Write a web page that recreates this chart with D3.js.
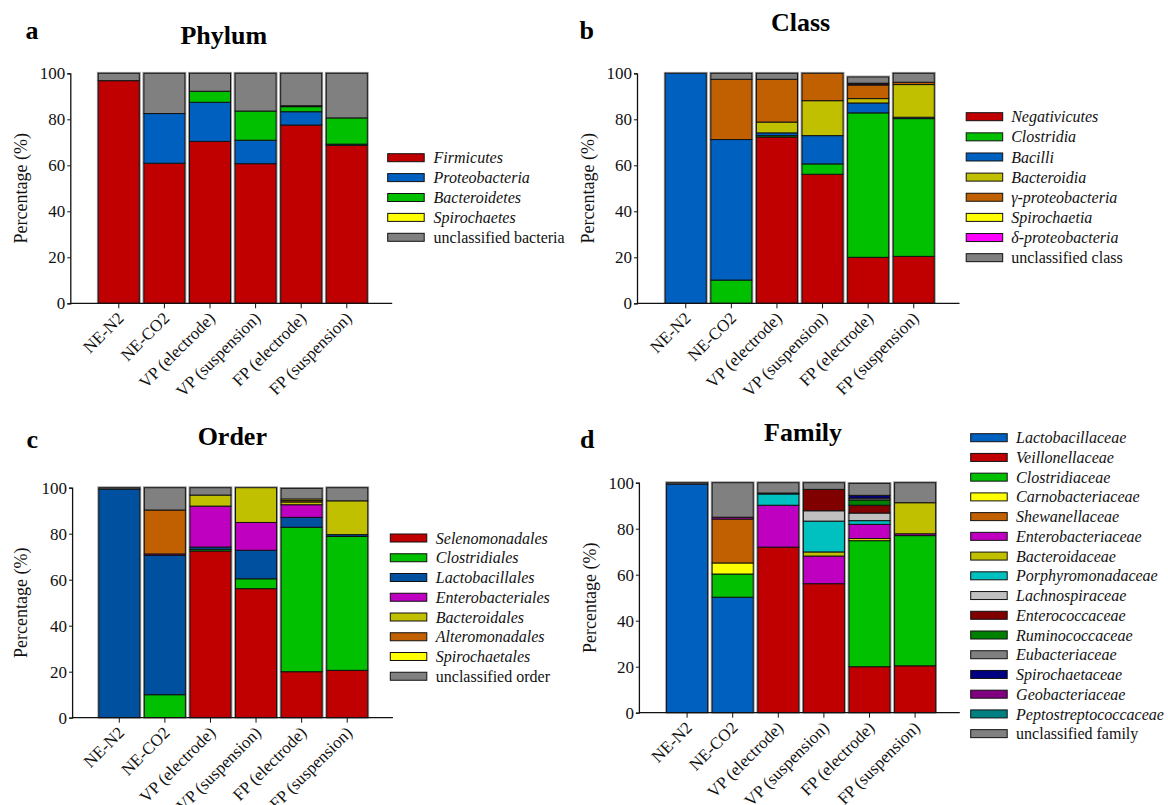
<!DOCTYPE html>
<html><head><meta charset="utf-8">
<script src="https://cdn.jsdelivr.net/npm/d3@7"></script>
<style>body{margin:0;background:#fff}svg text{font-family:"Liberation Serif","Times New Roman",serif}</style>
</head><body>
<svg id="c" width="1168" height="805" font-family="Liberation Serif, Times New Roman, serif"></svg>
<script>
const categories = ["NE-N2","NE-CO2","VP (electrode)","VP (suspension)","FP (electrode)","FP (suspension)"];
const yTicks = [0,20,40,60,80,100];

const phylumTaxa = ["Firmicutes","Proteobacteria","Bacteroidetes","Spirochaetes","unclassified bacteria"];
const phylumColors = ["#c00000","#0060c0","#00c000","#ffff00","#808080"];
const phylumValues = [
  [96.8, 60.9, 70.4, 60.7, 77.5, 68.7],
  [0, 21.6, 17.0, 10.2, 5.8, 0.5],
  [0, 0, 4.8, 12.7, 2.2, 11.4],
  [0, 0, 0, 0, 0.4, 0],
  [3.2, 17.5, 7.8, 16.4, 14.1, 19.4]
];

const classTaxa = ["Negativicutes","Clostridia","Bacilli","Bacteroidia","γ-proteobacteria","Spirochaetia","δ-proteobacteria","unclassified class"];
const classColors = ["#c00000","#00c000","#0060c0","#c0c000","#c06000","#ffff00","#ff00ff","#808080"];
const classValues = [
  [0, 0, 72.3, 56.1, 20.0, 20.4],
  [0, 10.1, 0.6, 4.5, 62.8, 59.9],
  [100, 61.1, 1.2, 12.3, 4.3, 0.6],
  [0, 0, 4.7, 15.2, 1.9, 14.2],
  [0, 26.2, 18.6, 11.9, 5.9, 1.0],
  [0, 0, 0, 0, 0.4, 0],
  [0, 0, 0, 0, 0.4, 0],
  [0, 2.6, 2.6, 0, 2.7, 3.9]
];

const orderTaxa = ["Selenomonadales","Clostridiales","Lactobacillales","Enterobacteriales","Bacteroidales","Alteromonadales","Spirochaetales","unclassified order"];
const orderColors = ["#c00000","#00c000","#0050a0","#c000c0","#c0c000","#c06000","#ffff00","#808080"];
const orderValues = [
  [0, 0, 72.5, 56.1, 20.0, 20.6],
  [0, 10.0, 0.7, 4.3, 62.8, 58.2],
  [99.4, 60.6, 1.0, 12.4, 4.3, 0.8],
  [0, 0.6, 17.8, 12.1, 5.5, 0],
  [0, 0, 4.8, 15.1, 1.2, 14.7],
  [0, 19.1, 0, 0, 0.6, 0],
  [0, 0, 0, 0, 0.7, 0],
  [0.6, 9.7, 3.2, 0, 4.6, 5.7]
];

const familyTaxa = ["Lactobacillaceae","Veillonellaceae","Clostridiaceae","Carnobacteriaceae","Shewanellaceae","Enterobacteriaceae","Bacteroidaceae","Porphyromonadaceae","Lachnospiraceae","Enterococcaceae","Ruminococcaceae","Eubacteriaceae","Spirochaetaceae","Geobacteriaceae","Peptostreptococcaceae","unclassified family"];
const familyColors = ["#0060c0","#c00000","#00c000","#ffff00","#c06000","#c000c0","#c0c000","#00c0c0","#c0c0c0","#800000","#008000","#808080","#000080","#800080","#008080","#808080"];
const familyValues = [
  [99.4, 50.2, 0, 0, 0, 0],
  [0, 0, 72.0, 56.1, 20.0, 20.4],
  [0, 10.1, 0, 0, 54.8, 56.6],
  [0, 4.8, 0, 0, 0.9, 0],
  [0, 19.1, 0, 0, 0, 0],
  [0, 0.8, 18.2, 12.0, 6.2, 0.8],
  [0, 0, 0, 1.8, 0, 13.5],
  [0, 0, 4.9, 13.4, 1.6, 0],
  [0, 0, 0, 4.5, 3.3, 0],
  [0, 0, 0.4, 9.3, 3.4, 0],
  [0, 0, 0, 0, 2.3, 0],
  [0, 0, 0, 0, 0.8, 0],
  [0, 0, 0, 0, 1.2, 0],
  [0, 0, 0, 0, 0, 0],
  [0, 0, 0, 0, 0, 0],
  [0.6, 15.0, 4.5, 2.9, 5.2, 8.7]
];

const panels = [
  {letter:"a", title:"Phylum", taxa:phylumTaxa, colors:phylumColors, values:phylumValues,
   axisX:70.3, y0:303.3, y100:73.3, xEnd:392.2, r0:96.0, r1:369.6,
   titleX:223.8, titleY:44, letterX:25.5, letterY:39.3, ylabX:20.3,
   legX:387.7, legTextX:433.6, legY:157.7, legStep:19.9},
  {letter:"b", title:"Class", taxa:classTaxa, colors:classColors, values:classValues,
   axisX:637, y0:303.3, y100:73.3, xEnd:959.5, r0:662.95, r1:936.55,
   titleX:800.5, titleY:31, letterX:579.5, letterY:39.3, ylabX:587.5,
   legX:966.2, legTextX:1011.2, legY:116.7, legStep:20.14},
  {letter:"c", title:"Order", taxa:orderTaxa, colors:orderColors, values:orderValues,
   axisX:72.1, y0:717.7, y100:487.7, xEnd:392.9, r0:96.5, r1:370.0,
   titleX:232.3, titleY:445, letterX:26.5, letterY:448.3, ylabX:20.5,
   legX:390.3, legTextX:435.8, legY:538, legStep:19.75},
  {letter:"d", title:"Family", taxa:familyTaxa, colors:familyColors, values:familyValues,
   axisX:638.9, y0:712.7, y100:482.7, xEnd:959.8, r0:664.3, r1:937.9,
   titleX:803.1, titleY:440.7, letterX:580, letterY:447.7, ylabX:589.4,
   legX:970.7, legTextX:1016.1, legY:437.7, legStep:19.73}
];

const FONT = '"Liberation Serif","Times New Roman",serif';
const svg = d3.select("#c");

panels.forEach(p => {
  const g = svg.append("g");
  const x = d3.scaleBand().domain(categories).range([p.r0, p.r1]).paddingInner(0.1).paddingOuter(0.05);
  const y = d3.scaleLinear().domain([0,100]).range([p.y0, p.y100]);

  const rows = categories.map((c, ci) => {
    const o = {cat:c};
    p.taxa.forEach((t, ti) => o[t] = p.values[ti][ci]);
    return o;
  });
  const stack = d3.stack().keys(p.taxa)(rows);

  // outer gray halo of each bar
  const totals = categories.map((c, ci) => ({cat:c, total:d3.sum(p.values, r => r[ci])}));
  g.selectAll(null).data(totals).enter().append("rect")
    .attr("x", d => x(d.cat) - 0.8).attr("width", x.bandwidth() + 1.6)
    .attr("y", d => y(d.total) - 0.8).attr("height", d => y(0) - y(d.total) + 0.8)
    .attr("fill", "none").attr("stroke", "#999").attr("stroke-width", 1.2);

  stack.forEach((layer, li) => {
    g.selectAll(null).data(layer.filter(d => d[1]-d[0] > 0)).enter().append("rect")
      .attr("x", d => x(d.data.cat))
      .attr("width", x.bandwidth())
      .attr("y", d => y(d[1]))
      .attr("height", d => y(d[0]) - y(d[1]))
      .attr("fill", p.colors[li])
      .attr("stroke", "#111")
      .attr("stroke-width", 1);
  });

  // y axis
  const ya = d3.axisLeft(y).tickValues(yTicks).tickSize(3).tickPadding(2);
  const yg = g.append("g").attr("transform", `translate(${p.axisX},0)`).call(ya);
  yg.attr("font-family", null);
  yg.select(".domain").attr("stroke", "#111").attr("stroke-width", 1.3);
  yg.selectAll(".tick line").attr("stroke", "#111");
  yg.selectAll("text").attr("font-size", 17).attr("fill", "#111").style("font-family", FONT);

  // x axis
  const xa = d3.axisBottom(x).tickSize(5).tickSizeOuter(0);
  const xg = g.append("g").attr("transform", `translate(0,${p.y0})`).call(xa);
  xg.attr("font-family", null);
  xg.select(".domain").remove();
  g.append("line").attr("x1", p.axisX).attr("x2", p.xEnd).attr("y1", p.y0).attr("y2", p.y0)
    .attr("stroke", "#111").attr("stroke-width", 1.3);
  xg.selectAll(".tick line").attr("stroke", "#111");
  xg.selectAll("text").attr("font-size", 17).attr("fill", "#111").style("font-family", FONT)
    .attr("text-anchor", "end")
    .attr("y", 0).attr("dy", 0)
    .attr("transform", "translate(6,16) rotate(-45)");

  // y label
  g.append("text").attr("transform", `translate(${p.ylabX},${(p.y0+p.y100)/2}) rotate(-90)`)
    .attr("text-anchor", "middle").attr("dy", "0.35em").attr("font-size", 18).attr("fill", "#111")
    .style("font-family", FONT).text("Percentage (%)");

  // title + letter
  g.append("text").attr("x", p.titleX).attr("y", p.titleY).attr("text-anchor", "middle")
    .attr("font-size", 26).attr("font-weight", "bold").attr("fill", "#000").style("font-family", FONT).text(p.title);
  g.append("text").attr("x", p.letterX).attr("y", p.letterY)
    .attr("font-size", 26).attr("font-weight", "bold").attr("fill", "#000").style("font-family", FONT).text(p.letter);

  // legend
  p.taxa.forEach((t, i) => {
    const cy = p.legY + i * p.legStep;
    g.append("rect").attr("x", p.legX).attr("y", cy - 4).attr("width", 36.5).attr("height", 8)
      .attr("fill", p.colors[i]).attr("stroke", "#111").attr("stroke-width", 1);
    const italic = !t.startsWith("unclassified");
    g.append("text").attr("x", p.legTextX).attr("y", cy).attr("dy", "0.35em")
      .attr("font-size", 16).attr("fill", "#111").style("font-family", FONT)
      .attr("font-style", italic ? "italic" : "normal").text(t);
  });
});
</script>
</body></html>
